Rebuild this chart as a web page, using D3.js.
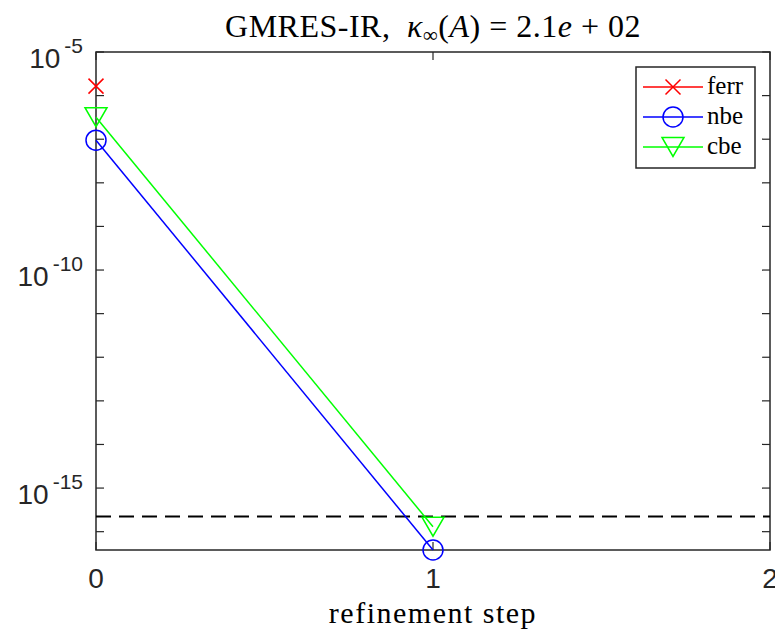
<!DOCTYPE html>
<html>
<head>
<meta charset="utf-8">
<script src="https://cdn.jsdelivr.net/npm/d3@7"></script>
<style>
  body { margin: 0; background: #fff; }
  svg { display: block; }
</style>
</head>
<body>
<div id="chart"></div>
<script>
const steps = [0, 1];
const ferr = [1.65e-6, 0];
const nbe = [9.5e-8, 3.8e-17];
const cbe = [3.2e-7, 1.3e-16];
const unitRoundoff = 2.22e-16;
const xTicks = [0, 1, 2];
const yTicks = [1e-5, 1e-10, 1e-15];
const yMinorTicks = [1e-6, 1e-7, 1e-8, 1e-9, 1e-11, 1e-12, 1e-13, 1e-14, 1e-16];
const legendLabels = ["ferr", "nbe", "cbe"];

const width = 775, height = 632;
const margin = { top: 52, right: 5, bottom: 82, left: 96 };
const axisColor = "#262626";

const svg = d3.select("#chart").append("svg")
  .attr("width", width)
  .attr("height", height);

const x = d3.scaleLinear().domain([0, 2]).range([margin.left, width - margin.right]);
const y = d3.scaleLog().domain([3.8e-17, 1e-5]).range([height - margin.bottom, margin.top]);

const x0 = x.range()[0], x1 = x.range()[1];
const y0 = y.range()[0], y1 = y.range()[1];

// axes box
svg.append("rect")
  .attr("x", x0).attr("y", y1)
  .attr("width", x1 - x0).attr("height", y0 - y1)
  .attr("fill", "none")
  .attr("stroke", axisColor)
  .attr("stroke-width", 1.5);

// ticks (inward, on all four sides)
const tickLen = 8;
[...yTicks, ...yMinorTicks].forEach(t => {
  svg.append("line").attr("x1", x0).attr("x2", x0 + tickLen)
    .attr("y1", y(t)).attr("y2", y(t)).attr("stroke", axisColor).attr("stroke-width", 1.2);
  svg.append("line").attr("x1", x1).attr("x2", x1 - tickLen)
    .attr("y1", y(t)).attr("y2", y(t)).attr("stroke", axisColor).attr("stroke-width", 1.2);
});
xTicks.forEach(t => {
  svg.append("line").attr("x1", x(t)).attr("x2", x(t))
    .attr("y1", y0).attr("y2", y0 - tickLen).attr("stroke", axisColor).attr("stroke-width", 1.2);
  svg.append("line").attr("x1", x(t)).attr("x2", x(t))
    .attr("y1", y1).attr("y2", y1 + tickLen).attr("stroke", axisColor).attr("stroke-width", 1.2);
});

// tick labels
const tickFont = "'Liberation Sans', Arial, sans-serif";
xTicks.forEach(t => {
  svg.append("text")
    .attr("x", x(t)).attr("y", y0 + 38)
    .attr("text-anchor", "middle")
    .attr("font-family", tickFont)
    .attr("font-size", 28)
    .attr("fill", axisColor)
    .text(t);
});
yTicks.forEach(t => {
  const e = Math.round(Math.log10(t));
  const lbl = svg.append("text")
    .attr("x", 83).attr("y", y(t) + 16)
    .attr("text-anchor", "end")
    .attr("font-family", tickFont)
    .attr("font-size", 28)
    .attr("fill", axisColor);
  lbl.append("tspan").text("10");
  lbl.append("tspan").attr("dx", 4).attr("dy", -15).attr("font-size", 21).text(e);
});

// dashed unit roundoff line
svg.append("line")
  .attr("x1", x0).attr("x2", x1)
  .attr("y1", y(unitRoundoff)).attr("y2", y(unitRoundoff))
  .attr("stroke", "#000")
  .attr("stroke-width", 2)
  .attr("stroke-dasharray", "15,8");

const series = [
  { name: "ferr", values: ferr, color: "#ff0000", marker: "x" },
  { name: "nbe", values: nbe, color: "#0000ff", marker: "o" },
  { name: "cbe", values: cbe, color: "#00ff00", marker: "v" }
];

function drawMarker(g, type, cx, cy, color) {
  if (type === "x") {
    const s = 7.5;
    g.append("path")
      .attr("d", `M${cx - s},${cy - s}L${cx + s},${cy + s}M${cx - s},${cy + s}L${cx + s},${cy - s}`)
      .attr("stroke", color).attr("stroke-width", 1.5).attr("fill", "none");
  } else if (type === "o") {
    g.append("circle").attr("cx", cx).attr("cy", cy).attr("r", 10)
      .attr("stroke", color).attr("stroke-width", 1.5).attr("fill", "none");
  } else {
    const w = 11, h = 9.5;
    g.append("path")
      .attr("d", `M${cx - w},${cy - h}L${cx + w},${cy - h}L${cx},${cy + h}Z`)
      .attr("stroke", color).attr("stroke-width", 1.5).attr("fill", "none");
  }
}

const line = d3.line()
  .defined(d => d.v > 0)
  .x(d => x(d.s))
  .y(d => y(d.v));

series.forEach(sr => {
  const pts = steps.map((s, i) => ({ s: s, v: sr.values[i] }));
  const g = svg.append("g");
  g.append("path")
    .datum(pts)
    .attr("d", line)
    .attr("fill", "none")
    .attr("stroke", sr.color)
    .attr("stroke-width", 1.5);
  pts.filter(d => d.v > 0).forEach(d => drawMarker(g, sr.marker, x(d.s), y(d.v), sr.color));
});

// legend
const serif = "'Liberation Serif', serif";
const lg = svg.append("g");
lg.append("rect")
  .attr("x", 636).attr("y", 67).attr("width", 119).attr("height", 101)
  .attr("fill", "#fff").attr("stroke", axisColor).attr("stroke-width", 1.5);
series.forEach((sr, i) => {
  const ly = 87 + i * 30;
  lg.append("line").attr("x1", 643).attr("x2", 703).attr("y1", ly).attr("y2", ly)
    .attr("stroke", sr.color).attr("stroke-width", 1.5);
  drawMarker(lg, sr.marker, 673, ly, sr.color);
  lg.append("text")
    .attr("x", 707).attr("y", ly + 7)
    .attr("font-family", serif)
    .attr("font-size", 25)
    .attr("fill", "#000")
    .text(legendLabels[i]);
});

// title
const title = svg.append("text")
  .attr("x", (x0 + x1) / 2).attr("y", 37)
  .attr("text-anchor", "middle")
  .attr("font-family", serif)
  .attr("font-size", 32)
  .attr("letter-spacing", 0.5)
  .attr("fill", "#000");
title.append("tspan").text("GMRES-IR,\u2002");
title.append("tspan").attr("font-style", "italic").text("\u03BA");
title.append("tspan").attr("font-size", 21).attr("dy", 5).text("\u221E");
title.append("tspan").attr("dy", -5).text("(");
title.append("tspan").attr("font-style", "italic").text("A");
title.append("tspan").text(") = 2.1");
title.append("tspan").attr("font-style", "italic").text("e");
title.append("tspan").text(" + 02");

// x label
svg.append("text")
  .attr("x", (x0 + x1) / 2).attr("y", 623)
  .attr("text-anchor", "middle")
  .attr("font-family", serif)
  .attr("font-size", 30)
  .attr("letter-spacing", 1.5)
  .attr("fill", "#000")
  .text("refinement step");
</script>
</body>
</html>
